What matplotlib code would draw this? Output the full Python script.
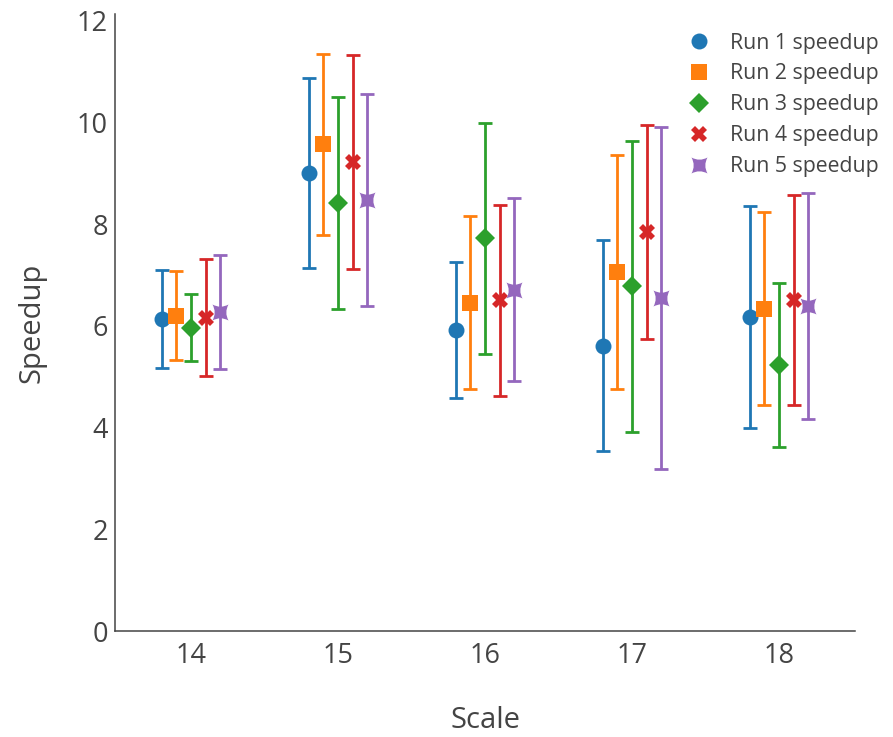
import matplotlib
matplotlib.use("Agg")
import matplotlib.pyplot as plt
from matplotlib.path import Path
import numpy as np

plt.rcParams['font.family'] = ['Open Sans', 'DejaVu Sans']

scales = [14, 15, 16, 17, 18]
series_names = ["Run 1 speedup", "Run 2 speedup", "Run 3 speedup", "Run 4 speedup", "Run 5 speedup"]

run1_mean = [6.14, 9.01, 5.92, 5.61, 6.17]
run1_err = [0.96, 1.87, 1.34, 2.08, 2.18]
run2_mean = [6.20, 9.57, 6.45, 7.05, 6.34]
run2_err = [0.88, 1.78, 1.70, 2.30, 1.90]
run3_mean = [5.96, 8.41, 7.72, 6.78, 5.23]
run3_err = [0.66, 2.08, 2.27, 2.86, 1.61]
run4_mean = [6.16, 9.22, 6.50, 7.85, 6.51]
run4_err = [1.15, 2.11, 1.88, 2.10, 2.07]
run5_mean = [6.27, 8.47, 6.71, 6.55, 6.39]
run5_err = [1.12, 2.085, 1.80, 3.36, 2.23]

means = [run1_mean, run2_mean, run3_mean, run4_mean, run5_mean]
errs = [run1_err, run2_err, run3_err, run4_err, run5_err]

colors = ['#1f77b4', '#ff7f0e', '#2ca02c', '#d62728', '#9467bd']

# concave "star-square" marker
k = 0.45
verts = [(-1, -1), (0, -k), (1, -1), (k, 0), (1, 1), (0, k), (-1, 1), (-k, 0), (-1, -1), (0, 0)]
codes = [Path.MOVETO, Path.CURVE3, Path.LINETO, Path.CURVE3, Path.LINETO,
         Path.CURVE3, Path.LINETO, Path.CURVE3, Path.LINETO, Path.CLOSEPOLY]
star_square = Path(verts, codes)

markers = ['o', 's', 'D', 'X', star_square]
msizes = [11.5, 11, 10.5, 11.5, 11.5]
offsets = [-0.2, -0.1, 0.0, 0.1, 0.2]

W, H = 893, 737
fig = plt.figure(figsize=(W / 100, H / 100), dpi=100)
ax = fig.add_axes([115 / W, (H - 631) / H, 740 / W, (631 - 14) / H])

x = np.array(scales, dtype=float)
for i in range(5):
    ax.errorbar(x + offsets[i], means[i], yerr=errs[i], fmt='none',
                ecolor=colors[i], elinewidth=2, capsize=5, capthick=2, zorder=2)
    ax.plot(x + offsets[i], means[i], linestyle='none', marker=markers[i],
            markersize=msizes[i], color=colors[i], markeredgewidth=0,
            label=series_names[i], zorder=3)

ax.set_xlim(13.483, 18.517)
ax.set_ylim(0, 12.13)
ax.set_xticks(scales)
ax.set_yticks([0, 2, 4, 6, 8, 10, 12])
ax.tick_params(axis='both', length=0, labelsize=19.5, colors='#444444')
ax.tick_params(axis='x', pad=8)
ax.tick_params(axis='y', pad=5)
for s in ['top', 'right']:
    ax.spines[s].set_visible(False)
for s in ['left', 'bottom']:
    ax.spines[s].set_color('#444444')
    ax.spines[s].set_linewidth(1.1)

ax.set_xlabel('Scale', fontsize=21, color='#444444', labelpad=26)
ax.set_ylabel('Speedup', fontsize=21, color='#444444', labelpad=22)

leg = ax.legend(loc='upper left', bbox_to_anchor=(675 / W, 1 - 24 / H),
                bbox_transform=fig.transFigure, frameon=False, fontsize=15.3,
                handletextpad=0.7, labelspacing=0.47, handlelength=1.5,
                borderaxespad=0)
for t in leg.get_texts():
    t.set_color('#444444')

fig.savefig('out.png', dpi=100)
